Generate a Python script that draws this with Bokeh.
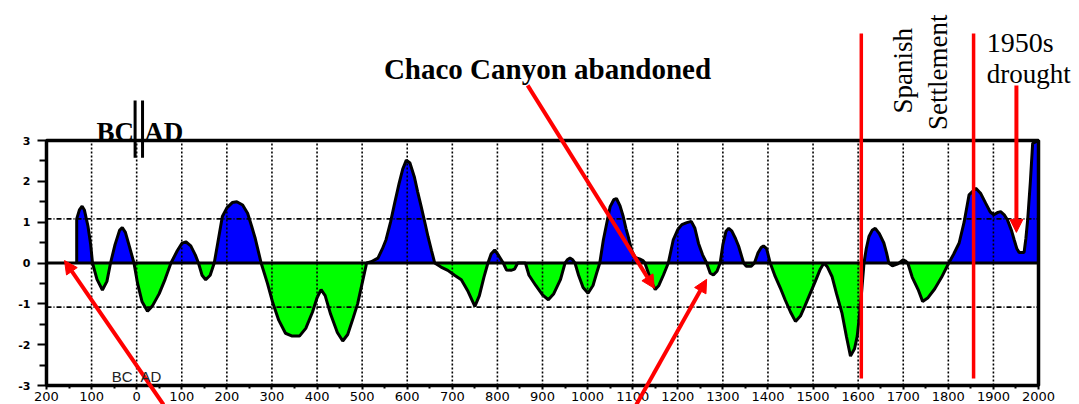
import numpy as np
from bokeh.plotting import figure
from bokeh.models import (Range1d, FixedTicker, Arrow, NormalHead, Label, LinearAxis)
from bokeh.embed import file_html
from bokeh.resources import INLINE

# ---- data ----
years = [-133, -133, -127, -121, -116, -108, -102, -98, -88, -76, -66, -58, -48, -38, -32, -25, -16, -6,
         2, 12, 24, 35, 50, 63, 76, 90, 100, 109, 120, 130, 137, 145, 153, 163, 172, 180, 190, 200, 212,
         222, 235, 246, 255, 263, 276, 290, 302, 315, 330, 345, 361, 375, 390, 400, 409, 418, 430, 445,
         457, 468, 480, 490, 500, 510, 520, 535, 545, 553, 563, 572, 582, 590, 598, 606, 616, 623, 631,
         640, 646, 654, 661, 675, 690, 705, 720, 735, 750, 760, 770, 779, 786, 794, 803, 813, 820, 830,
         838, 845, 862, 870, 885, 900, 913, 925, 940, 950, 955, 961, 967, 972, 980, 990, 1001, 1012, 1020,
         1027, 1035, 1042, 1050, 1058, 1064, 1072, 1079, 1085, 1090, 1098, 1105, 1115, 1123, 1127, 1135,
         1143, 1150, 1158, 1168, 1179, 1190, 1200, 1209, 1220, 1230, 1238, 1246, 1255, 1264, 1272, 1279,
         1287, 1294, 1300, 1307, 1313, 1320, 1328, 1335, 1342, 1346, 1352, 1363, 1370, 1378, 1385, 1390,
         1397, 1405, 1416, 1427, 1438, 1450, 1461, 1472, 1482, 1490, 1505, 1516, 1524, 1532, 1542, 1552,
         1564, 1574, 1583, 1592, 1598, 1605, 1613, 1618, 1624, 1631, 1638, 1647, 1657, 1663, 1668, 1676,
         1688, 1700, 1705, 1710, 1720, 1733, 1743, 1755, 1770, 1785, 1801, 1812, 1824, 1835, 1846, 1861,
         1872, 1883, 1893, 1901, 1910, 1916, 1924, 1931, 1940, 1946, 1952, 1957, 1968, 1972, 1976, 1982,
         1987, 2000]
index = [0, 1.08, 1.3, 1.39, 1.3, 0.9, 0.45, 0, -0.4, -0.66, -0.45, 0, 0.45, 0.8, 0.87, 0.75, 0.4, 0,
         -0.5, -0.95, -1.18, -1.05, -0.75, -0.4, 0, 0.3, 0.48, 0.52, 0.42, 0.2, 0, -0.3, -0.41, -0.3, 0,
         0.5, 1.14, 1.35, 1.48, 1.5, 1.42, 1.22, 0.9, 0.6, 0, -0.5, -0.98, -1.4, -1.72, -1.79, -1.79, -1.6,
         -1.2, -0.85, -0.65, -0.8, -1.25, -1.7, -1.91, -1.75, -1.35, -1.0, -0.5, 0, 0.03, 0.12, 0.35, 0.57,
         1.0, 1.46, 1.95, 2.3, 2.52, 2.45, 2.1, 1.75, 1.38, 0.95, 0.65, 0.3, 0, -0.1, -0.18, -0.3, -0.41,
         -0.7, -1.06, -0.8, -0.35, 0, 0.22, 0.32, 0.18, 0, -0.17, -0.18, -0.15, 0, 0, -0.3, -0.55, -0.78,
         -0.9, -0.75, -0.4, 0, 0.08, 0.12, 0.08, 0, -0.3, -0.6, -0.74, -0.55, -0.25, 0, 0.57, 0.95, 1.38,
         1.55, 1.58, 1.4, 1.14, 0.85, 0.65, 0.3, 0.14, 0.1, 0.06, 0, -0.25, -0.5, -0.65, -0.55, -0.3, 0,
         0.57, 0.82, 0.94, 0.99, 1.02, 0.85, 0.48, 0.2, 0, -0.25, -0.29, -0.2, 0, 0.45, 0.78, 0.85, 0.78,
         0.6, 0.41, 0.15, 0, -0.08, -0.08, 0, 0.25, 0.38, 0.42, 0.35, 0, -0.33, -0.6, -0.9, -1.2, -1.43,
         -1.3, -1.05, -0.84, -0.45, -0.15, 0, -0.1, -0.33, -0.75, -1.22, -1.8, -2.28, -2.1, -1.79, -1.06, 0,
         0.35, 0.65, 0.8, 0.85, 0.72, 0.49, 0.25, 0, -0.07, -0.02, 0.08, 0.05, 0, -0.35, -0.65, -0.94,
         -0.85, -0.63, -0.35, 0, 0.22, 0.49, 1.0, 1.67, 1.83, 1.7, 1.46, 1.25, 1.18, 1.24, 1.26, 1.18,
         1.06, 0.8, 0.57, 0.35, 0.26, 0.26, 0.6, 1.06, 2.0, 2.93, 3.0]

x_tick_values = list(range(-200, 2001, 100))
x_tick_labels = ["200", "100", "0", "100", "200", "300", "400", "500", "600", "700", "800", "900",
                 "1000", "1100", "1200", "1300", "1400", "1500", "1600", "1700", "1800", "1900", "2000"]
y_tick_values = [-3, -2, -1, 0, 1, 2, 3]
y_tick_labels = ["-3", "-2", "-1", "0", "1", "2", "3"]

x = np.array(years, dtype=float)
v = np.array(index, dtype=float)
X0, X1 = x_tick_values[0], x_tick_values[-1]
Y0, Y1 = y_tick_values[0], y_tick_values[-1]

# the frame covers the whole canvas so that annotations above/below the chart box are drawn
p = figure(width=1079, height=404, output_backend="svg", toolbar_location=None,
           x_range=Range1d(-302.0, 2090.9), y_range=Range1d(-3.465, 6.429),
           x_axis_type=None, y_axis_type=None,
           min_border_left=0, min_border_right=0, min_border_top=0, min_border_bottom=0)
p.background_fill_color = "white"
p.border_fill_color = "white"
p.outline_line_color = None

# fills
p.varea(x=x, y1=np.zeros_like(v), y2=np.maximum(v, 0), fill_color="#0000FF")
p.varea(x=x, y1=np.zeros_like(v), y2=np.minimum(v, 0), fill_color="#00FF00")

# grid lines inside the chart box
gx = x_tick_values[1:-1]
p.segment(x0=gx, y0=[Y0] * len(gx), x1=gx, y1=[Y1] * len(gx),
          line_color="black", line_dash="2 2", line_width=1.6)
gy = [1.08, -1.08]
p.segment(x0=[X0] * 2, y0=gy, x1=[X1] * 2, y1=gy,
          line_color="black", line_dash="5 2 1 2", line_width=1.6)

# curve outline and zero line
p.line(x, v, line_color="black", line_width=3)
p.segment(x0=[X0], y0=[0], x1=[X1], y1=[0], line_color="black", line_width=3)

# chart box
p.quad(left=[X0], right=[X1], bottom=[Y0], top=[Y1], fill_color=None,
       line_color="black", line_width=3.5)

# axes fixed at the chart box edges
xaxis = LinearAxis(fixed_location=Y0, bounds=(X0, X1),
                   ticker=FixedTicker(ticks=x_tick_values,
                                      minor_ticks=[t + 50 for t in x_tick_values[:-1]]))
xaxis.major_label_overrides = {t: s for t, s in zip(x_tick_values, x_tick_labels)}
xaxis.major_label_text_font = "DejaVu Sans"
xaxis.major_label_text_font_size = "13px"
xaxis.major_label_text_color = "black"
xaxis.major_label_standoff = 2
xaxis.major_tick_out = 4
xaxis.major_tick_in = 0
xaxis.minor_tick_out = 3
xaxis.minor_tick_in = 0
xaxis.axis_line_color = None
xaxis.major_tick_line_width = 2
xaxis.minor_tick_line_width = 2
p.add_layout(xaxis, "below")

yaxis = LinearAxis(fixed_location=X0, bounds=(Y0, Y1),
                   ticker=FixedTicker(ticks=y_tick_values,
                                      minor_ticks=[t + 0.5 for t in y_tick_values[:-1]]))
yaxis.major_label_overrides = {t: s for t, s in zip(y_tick_values, y_tick_labels)}
yaxis.major_label_text_font = "DejaVu Sans"
yaxis.major_label_text_font_style = "bold"
yaxis.major_label_text_font_size = "11px"
yaxis.major_label_text_color = "black"
yaxis.major_label_standoff = 7
yaxis.major_tick_out = 9
yaxis.major_tick_in = 0
yaxis.minor_tick_out = 7
yaxis.minor_tick_in = 0
yaxis.axis_line_color = None
yaxis.major_tick_line_width = 2
yaxis.minor_tick_line_width = 2
p.add_layout(yaxis, "left")

# red annotations
RED = "#FF0000"
def arrow(x0, y0, x1, y1, head=True, width=4, color=RED):
    end = NormalHead(size=13, fill_color=color, line_color=color) if head else None
    p.add_layout(Arrow(end=end, x_start=x0, y_start=y0, x_end=x1, y_end=y1,
                       line_color=color, line_width=width))

arrow(59.5, -3.47, -160, 0.06)
arrow(867, 4.35, 1148, -0.62)
arrow(1108, -3.47, 1264, -0.40)
arrow(1951, 4.35, 1951, 0.75)
arrow(1607, 5.62, 1607, -2.83, head=False, width=3.5)
arrow(1856, 5.62, 1856, -2.83, head=False, width=3.5)

# BC|AD double bar
arrow(-3.5, 3.98, -3.5, 2.58, head=False, width=3, color="black")
arrow(13, 3.98, 13, 2.58, head=False, width=3, color="black")

# texts
def label(x0, y0, txt, size, align="left", style="normal", font="Liberation Serif",
          angle=0.0, baseline="alphabetic", color="black"):
    p.add_layout(Label(x=x0, y=y0, text=txt, text_font=font, text_font_size=size,
                       text_font_style=style, text_align=align, text_baseline=baseline,
                       angle=angle, text_color=color))

label(911, 4.76, "Chaco Canyon abandoned", "29px", align="center", style="bold")
label(-6, 3.2, "BC", "27px", align="right", style="bold")
label(17, 3.2, "AD", "27px", align="left", style="bold")
label(-9, -2.77, "BC", "15px", align="right", font="Liberation Sans", color="#222222")
label(8.6, -2.77, "AD", "15px", align="left", font="Liberation Sans", color="#222222")
label(1885, 5.41, "1950s", "28px")
label(1885, 4.64, "drought", "27px")
label(1700, 4.71, "Spanish", "27px", align="center", angle=np.pi / 2, baseline="middle")
label(1778, 4.67, "Settlement", "27px", align="center", angle=np.pi / 2, baseline="middle")

open("out.html", "w").write(file_html(p, INLINE))
